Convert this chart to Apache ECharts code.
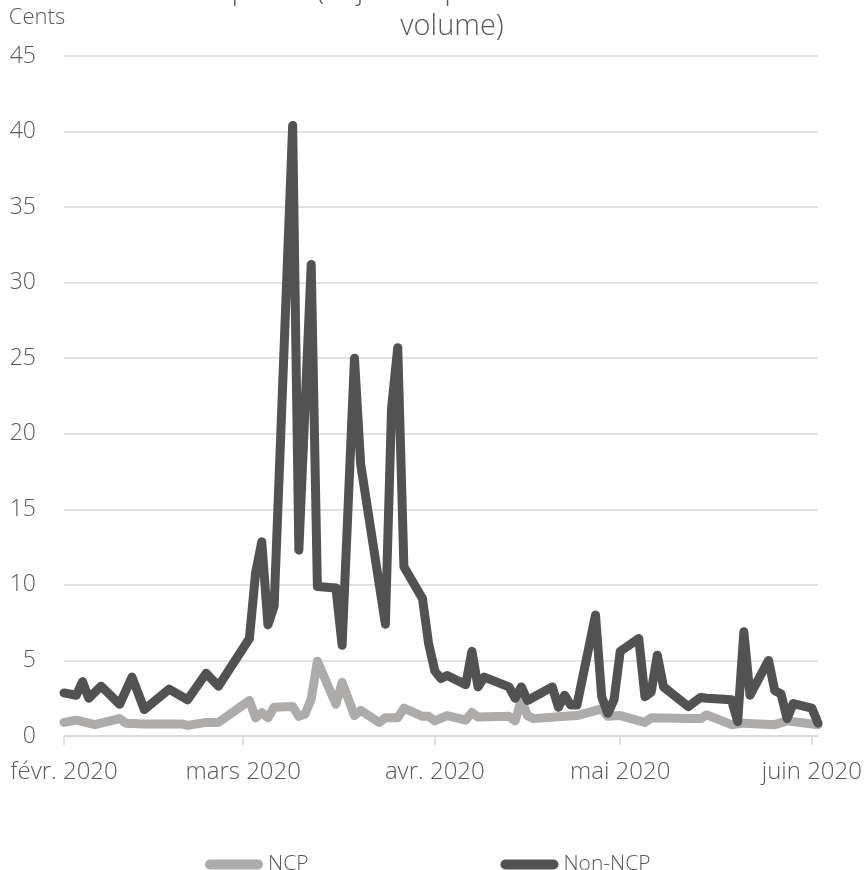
<!DOCTYPE html>
<html>
<head>
<meta charset="utf-8">
<style>
  html, body { margin: 0; padding: 0; background: #ffffff; }
  #chart { width: 865px; height: 870px; }
</style>
<script src="https://cdn.jsdelivr.net/npm/echarts@6/dist/echarts.min.js"></script>
</head>
<body>
<div id="chart"></div>
<script>
// Month ticks on the date axis and their labels
const xTickDates = ['2020-02-01', '2020-03-01', '2020-04-01', '2020-05-01', '2020-06-01'];
const xTickLabels = ['févr. 2020', 'mars 2020', 'avr. 2020', 'mai 2020', 'juin 2020'];
const xRange = ['2020-02-01', '2020-06-02'];

// Y axis scale (cents)
const yMin = 0, yMax = 45, yStep = 5;

// NCP spread, cents
const ncpDates = [
  '2020-02-01', '2020-02-03', '2020-02-06', '2020-02-10', '2020-02-11', '2020-02-14',
  '2020-02-20', '2020-02-21', '2020-02-24', '2020-02-26', '2020-03-02', '2020-03-03',
  '2020-03-04', '2020-03-05', '2020-03-06', '2020-03-09', '2020-03-10', '2020-03-11',
  '2020-03-12', '2020-03-13', '2020-03-16', '2020-03-17', '2020-03-19', '2020-03-20',
  '2020-03-23', '2020-03-24', '2020-03-26', '2020-03-27', '2020-03-30', '2020-03-31',
  '2020-04-01', '2020-04-03', '2020-04-06', '2020-04-07', '2020-04-08', '2020-04-13',
  '2020-04-14', '2020-04-15', '2020-04-16', '2020-04-17', '2020-04-22', '2020-04-24',
  '2020-04-28', '2020-04-29', '2020-05-01', '2020-05-05', '2020-05-06', '2020-05-12',
  '2020-05-14', '2020-05-15', '2020-05-19', '2020-05-21', '2020-05-26', '2020-05-28',
  '2020-06-02'
];
const ncpValues = [
  0.9, 1.05, 0.75, 1.15, 0.85, 0.8,
  0.8, 0.7, 0.9, 0.9, 2.35, 1.2,
  1.55, 1.2, 1.9, 1.95, 1.3, 1.45,
  2.45, 4.95, 2.1, 3.55, 1.35, 1.7,
  0.9, 1.2, 1.2, 1.85, 1.3, 1.3,
  1.0, 1.35, 1.05, 1.55, 1.25, 1.3,
  1.0, 2.4, 1.35, 1.15, 1.3, 1.35,
  1.8, 1.3, 1.35, 0.9, 1.2, 1.15,
  1.15, 1.4, 0.75, 0.85, 0.75, 1.0,
  0.75
];

// Non-NCP spread, cents
const nonNcpDates = [
  '2020-02-01', '2020-02-03', '2020-02-04', '2020-02-05', '2020-02-07', '2020-02-10',
  '2020-02-12', '2020-02-14', '2020-02-18', '2020-02-21', '2020-02-24', '2020-02-26',
  '2020-03-02', '2020-03-03', '2020-03-04', '2020-03-05', '2020-03-06', '2020-03-09',
  '2020-03-10', '2020-03-12', '2020-03-13', '2020-03-16', '2020-03-17', '2020-03-19',
  '2020-03-20', '2020-03-24', '2020-03-25', '2020-03-26', '2020-03-27', '2020-03-30',
  '2020-03-31', '2020-04-01', '2020-04-02', '2020-04-03', '2020-04-06', '2020-04-07',
  '2020-04-08', '2020-04-09', '2020-04-13', '2020-04-14', '2020-04-15', '2020-04-16',
  '2020-04-20', '2020-04-21', '2020-04-22', '2020-04-23', '2020-04-24', '2020-04-27',
  '2020-04-28', '2020-04-29', '2020-04-30', '2020-05-01', '2020-05-04', '2020-05-05',
  '2020-05-06', '2020-05-07', '2020-05-08', '2020-05-12', '2020-05-14', '2020-05-15',
  '2020-05-19', '2020-05-20', '2020-05-21', '2020-05-22', '2020-05-25', '2020-05-26',
  '2020-05-27', '2020-05-28', '2020-05-29', '2020-06-01', '2020-06-02'
];
const nonNcpValues = [
  2.85, 2.7, 3.6, 2.5, 3.3, 2.1,
  3.9, 1.75, 3.1, 2.4, 4.15, 3.3,
  6.45, 10.8, 12.85, 7.35, 8.6, 40.4,
  12.3, 31.2, 9.9, 9.8, 6.0, 25.0,
  18.0, 7.4, 21.7, 25.7, 11.2, 9.1,
  6.1, 4.3, 3.8, 4.0, 3.4, 5.6,
  3.25, 3.9, 3.25, 2.5, 3.25, 2.35,
  3.25, 1.9, 2.7, 2.05, 2.05, 8.0,
  2.6, 1.5, 2.4, 5.6, 6.45, 2.6,
  2.9, 5.35, 3.25, 1.95, 2.55, 2.5,
  2.4, 0.95, 6.9, 2.7, 5.0, 3.0,
  2.8, 1.15, 2.15, 1.85, 0.85
];

// Calendar dates become timestamps on a numeric x axis
function toTime(s) {
  const p = s.split('-').map(Number);
  return Date.UTC(p[0], p[1] - 1, p[2]);
}
function pairs(dates, values) {
  return dates.map((d, i) => [toTime(d), values[i]]);
}

const tickTimes = xTickDates.map(toTime);
const axisFont = { fontFamily: 'Open Sans', fontWeight: 300, color: '#595959' };
const titleFont = '300 29px "Open Sans", sans-serif';

const chart = echarts.init(document.getElementById('chart'), null, { renderer: 'canvas' });

chart.setOption({
  backgroundColor: '#ffffff',
  animation: false,
  grid: { left: 64, right: 47, top: 56, bottom: 134, containLabel: false },
  graphic: [
    {
      type: 'text', x: 452, y: -9,
      style: {
        text: 'Bid-ask spread (adjusted per million dollars of trade',
        font: titleFont,
        fill: '#595959', textAlign: 'center', textVerticalAlign: 'middle'
      }
    },
    {
      type: 'text', x: 452, y: 27,
      style: {
        text: 'volume)',
        font: titleFont,
        fill: '#595959', textAlign: 'center', textVerticalAlign: 'middle'
      }
    },
    {
      type: 'text', x: 37, y: 18,
      style: {
        text: 'Cents',
        font: '300 22px "Open Sans", sans-serif',
        fill: '#595959', textAlign: 'center', textVerticalAlign: 'middle'
      }
    }
  ],
  legend: {
    left: 200,
    top: 849,
    itemWidth: 58,
    itemHeight: 10,
    itemGap: 192,
    icon: 'path://M5,0 L53,0 A5,5 0 0 1 53,10 L5,10 A5,5 0 0 1 5,0 Z',
    textStyle: Object.assign({ fontSize: 21 }, axisFont),
    data: ['NCP', 'Non-NCP']
  },
  xAxis: {
    type: 'value',
    min: toTime(xRange[0]),
    max: toTime(xRange[1]),
    splitLine: { show: false },
    axisLine: { show: true, lineStyle: { color: '#d9d9d9', width: 1.5 } },
    axisTick: {
      show: true, length: 9, inside: false,
      customValues: tickTimes,
      lineStyle: { color: '#d9d9d9', width: 1.5 }
    },
    axisLabel: Object.assign({
      fontSize: 24,
      margin: 24,
      customValues: tickTimes,
      hideOverlap: false,
      showMinLabel: true,
      showMaxLabel: true,
      formatter: function (val) {
        const i = tickTimes.indexOf(val);
        return i >= 0 ? xTickLabels[i] : '';
      }
    }, axisFont)
  },
  yAxis: {
    type: 'value',
    min: yMin,
    max: yMax,
    interval: yStep,
    axisLine: { show: false },
    axisTick: { show: false },
    splitLine: { show: true, lineStyle: { color: '#d9d9d9', width: 1.5 } },
    axisLabel: Object.assign({ fontSize: 23, margin: 28 }, axisFont)
  },
  series: [
    {
      name: 'NCP',
      type: 'line',
      data: pairs(ncpDates, ncpValues),
      showSymbol: false,
      symbol: 'none',
      color: '#aeabab',
      lineStyle: { width: 9, color: '#aeabab', cap: 'round', join: 'round' },
      z: 2
    },
    {
      name: 'Non-NCP',
      type: 'line',
      data: pairs(nonNcpDates, nonNcpValues),
      showSymbol: false,
      symbol: 'none',
      color: '#525252',
      lineStyle: { width: 9, color: '#525252', cap: 'round', join: 'round' },
      z: 3
    }
  ]
});
</script>
</body>
</html>
